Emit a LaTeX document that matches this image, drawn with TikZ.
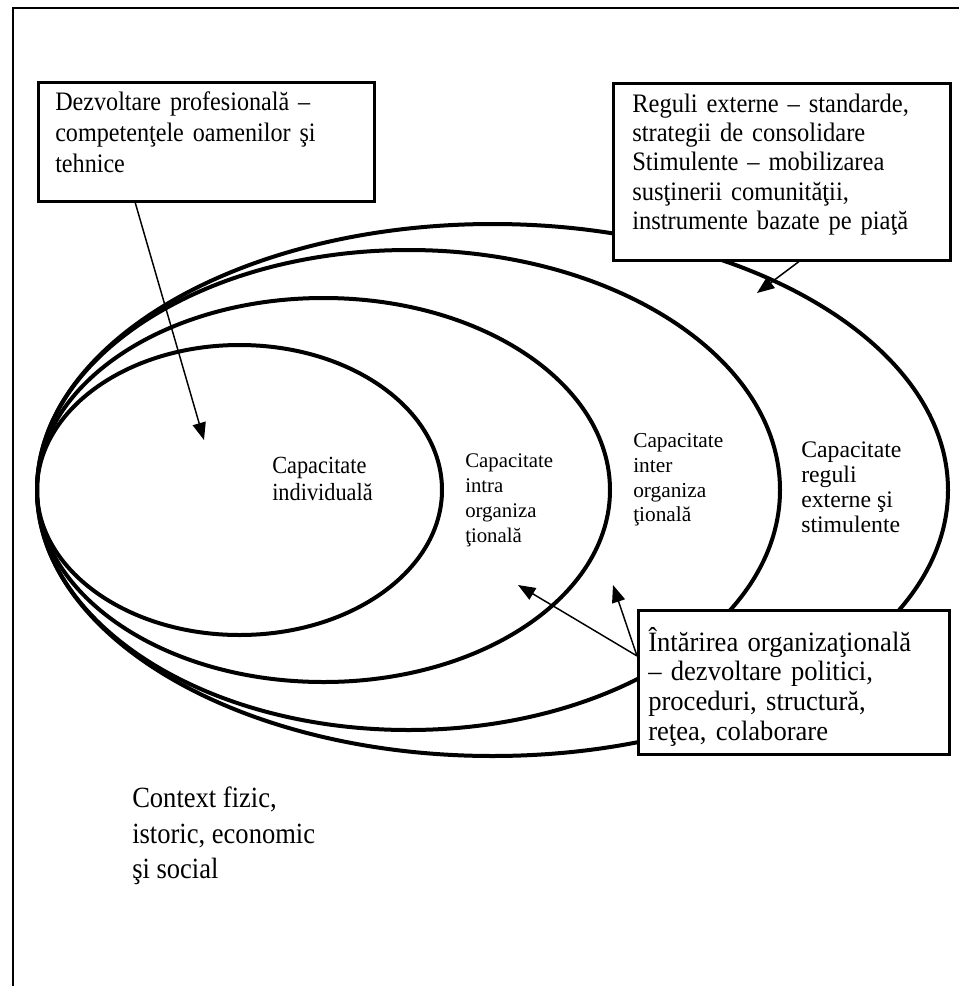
\documentclass[tikz,border=0pt]{standalone}
\usepackage{fontspec}
\setmainfont{Liberation Serif}
\newfontfamily\ingust{Liberation Serif}[FakeStretch=0.905]
\newfontfamily\ingustb{Liberation Serif}[FakeStretch=0.92]
\newfontfamily\ingustc{Liberation Serif}[FakeStretch=0.95]
\usetikzlibrary{positioning,calc,arrows.meta}
\hyphenpenalty=10000

\begin{document}
\begin{tikzpicture}[x=0.75pt,y=-0.75pt,
    cutie/.style={draw,fill=white,line width=2pt,rectangle,anchor=north west,inner sep=0pt},
    textcutie/.style={inner sep=0pt,align=left,anchor=base west,text width=250pt},
    eticheta/.style={inner sep=0pt,align=left,anchor=west},
    elipsa/.style={line width=3pt},
    sageata/.style={-{Triangle[length=13pt,width=10pt]},line width=1.1pt}]
\useasboundingbox (0,0) rectangle (959,986);
\draw[line width=1.5pt] (13,986) -- (13,8) -- (959,8);

\draw[elipsa] (239.5,490) ellipse (202.5 and 145);
\draw[elipsa] (323.5,490) ellipse (286.5 and 192);
\draw[elipsa] (408.5,490) ellipse (371.5 and 240);
\draw[elipsa] (492.5,490) ellipse (455.5 and 266);

\node[eticheta,font=\ingust\fontsize{18.5}{20.25}\selectfont] (ci) at (272,478.5) {Capacitate\\individuală};
\node[eticheta,font=\fontsize{15.6}{18.75}\selectfont] (cintra) at (465,500.5) {Capacitate\\intra\\organiza\\ţională};
\node[eticheta,font=\fontsize{16}{18.5}\selectfont] (cinter) at (633,480) {Capacitate\\inter\\organiza\\ţională};
\node[eticheta,font=\fontsize{17.8}{18.75}\selectfont] (creg) at (801,487.5) {Capacitate\\reguli\\externe şi\\stimulente};

\node[cutie,minimum width=252pt,minimum height=89.25pt] (dp) at (37,81) {};
\node[textcutie,font=\ingust\fontsize{20}{23.5}\selectfont] (dptext) at (55,110)
  {Dezvoltare profesională –\\competenţele oamenilor şi\\tehnice};
\node[cutie,minimum width=252.75pt,minimum height=132.75pt] (re) at (612,82) {};
\node[textcutie,font=\ingustb\fontsize{20}{22}\selectfont] (retext) at (632,112)
  {Reguli externe – standarde,\\strategii de consolidare\\Stimulente – mobilizarea\\susţinerii comunităţii,\\instrumente bazate pe piaţă};
\node[cutie,minimum width=233.25pt,minimum height=108pt] (io) at (637,609) {};
\node[textcutie,font=\ingustc\fontsize{21}{22.3}\selectfont] (iotext) at (648,651)
  {Întărirea organizaţională\\– dezvoltare politici,\\proceduri, structură,\\reţea, colaborare};

\node[eticheta,font=\ingust\fontsize{22}{26.6}\selectfont] (ctx) at (132,836) {Context fizic,\\istoric, economic\\şi social};

\coordinate (t1) at (204,440);
\coordinate (t2) at (757,293);
\coordinate (t3) at (518,585);
\coordinate (t4) at (613,585);
\draw[sageata] ($(dp.south west)!0.29!(dp.south east)$) -- (t1);
\draw[sageata] ($(re.south west)!0.55!(re.south east)$) -- (t2);
\draw[sageata] ($(io.north west)!0.32!(io.south west)$) -- (t3);
\draw[sageata] ($(io.north west)!0.32!(io.south west)$) -- (t4);
\end{tikzpicture}
\end{document}
